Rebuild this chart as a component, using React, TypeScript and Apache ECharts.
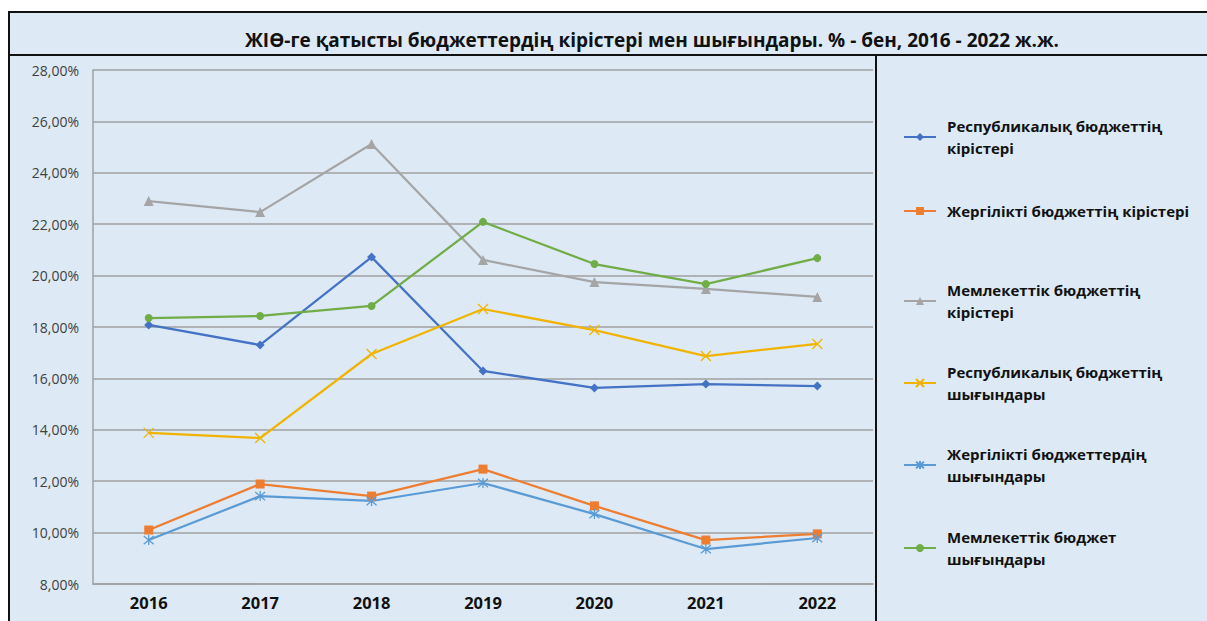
import React, { useEffect, useRef } from "react";
import * as echarts from "echarts";

const years = ["2016", "2017", "2018", "2019", "2020", "2021", "2022"];
const respIncome = [18.08, 17.3, 20.72, 16.29, 15.63, 15.78, 15.7];
const localIncome = [10.1, 11.89, 11.42, 12.47, 11.04, 9.71, 9.95];
const stateIncome = [22.9, 22.47, 25.12, 20.61, 19.75, 19.48, 19.17];
const respSpend = [13.88, 13.68, 16.95, 18.7, 17.88, 16.87, 17.34];
const localSpend = [9.71, 11.42, 11.23, 11.93, 10.72, 9.36, 9.79];
const stateSpend = [18.35, 18.43, 18.82, 22.09, 20.45, 19.67, 20.68];

const names = [
  "Республикалық бюджеттің кірістері",
  "Жергілікті бюджеттің кірістері",
  "Мемлекеттік бюджеттің кірістері",
  "Республикалық бюджеттің шығындары",
  "Жергілікті бюджеттердің шығындары",
  "Мемлекеттік бюджет шығындары",
];
const legendLabels = [
  "Республикалық бюджеттің\nкірістері",
  "Жергілікті бюджеттің кірістері",
  "Мемлекеттік бюджеттің\nкірістері",
  "Республикалық бюджеттің\nшығындары",
  "Жергілікті бюджеттердің\nшығындары",
  "Мемлекеттік бюджет\nшығындары",
];
const colors = ["#4472C4", "#ED7D31", "#A5A5A5", "#F0B400", "#5B9BD5", "#70AD47"];
const title = "ЖІӨ-ге қатысты бюджеттердің кірістері мен шығындары. % - бен, 2016 - 2022 ж.ж.";

const XSYM = "path://M0,0L10,10M10,0L0,10";
const STARSYM = "path://M0,0L10,10M10,0L0,10M5,-1L5,11";

export default function App() {
  const ref = useRef<HTMLDivElement>(null);
  useEffect(() => {
    document.body.style.margin = "0";
    const chart = echarts.init(ref.current!, null, { renderer: "svg" });
    const datas = [respIncome, localIncome, stateIncome, respSpend, localSpend, stateSpend];
    const symbols = ["diamond", "rect", "triangle", XSYM, STARSYM, "circle"];
    const sizes = [9, 9, 10, 10, 10, 8];
    const series = datas.map((d, i) => {
      const stroked = i === 3 || i === 4;
      return {
        name: names[i],
        type: "line",
        data: d,
        symbol: symbols[i],
        symbolSize: sizes[i],
        lineStyle: { color: colors[i], width: 2.25 },
        itemStyle: stroked
          ? { color: "rgba(0,0,0,0)", borderColor: colors[i], borderWidth: 1.3 }
          : { color: colors[i], borderWidth: 0 },
        emphasis: { disabled: true },
      };
    });
    const legendTops = [115, 200, 279, 361, 443, 526];
    const legends = names.map((n, i) => ({
      data: [n],
      left: 903,
      top: legendTops[i],
      padding: 0,
      itemWidth: 32,
      itemHeight: 10,
      itemGap: 0,
      selectedMode: false,
      formatter: () => legendLabels[i],
      textStyle: {
        fontFamily: "Open Sans",
        fontWeight: "bold",
        fontSize: 15,
        color: "#111",
        lineHeight: 22,
        padding: [0, 0, 0, 6],
      },
    }));
    chart.setOption({
      animation: false,
      backgroundColor: "#ffffff",
      graphic: [
        {
          type: "rect",
          z: -10,
          silent: true,
          shape: { x: 9, y: 12, width: 1210, height: 620 },
          style: { fill: "#DDEAF6", stroke: "#111", lineWidth: 2 },
        },
        {
          type: "line",
          silent: true,
          shape: { x1: 9, y1: 55, x2: 1207, y2: 55 },
          style: { stroke: "#111", lineWidth: 2 },
        },
        {
          type: "line",
          silent: true,
          shape: { x1: 876, y1: 55, x2: 876, y2: 621 },
          style: { stroke: "#111", lineWidth: 2 },
        },
        {
          type: "text",
          silent: true,
          x: 652,
          y: 40,
          style: {
            text: title,
            fontFamily: "Open Sans",
            fontWeight: "bold",
            fontSize: 19,
            fill: "#111",
            align: "center",
            verticalAlign: "middle",
          },
        },
      ],
      legend: legends,
      grid: { left: 93, right: 334, top: 70, bottom: 37 },
      xAxis: {
        type: "category",
        data: years,
        boundaryGap: true,
        axisLine: { lineStyle: { color: "#A0A0A0", width: 1.5 } },
        axisTick: { show: false },
        axisLabel: {
          fontFamily: "Open Sans",
          fontWeight: "bold",
          fontSize: 16.5,
          color: "#111",
          margin: 10,
        },
      },
      yAxis: {
        type: "value",
        min: 8,
        max: 28,
        interval: 2,
        axisLine: { show: true, lineStyle: { color: "#A0A0A0", width: 1.5 } },
        axisTick: { show: false },
        splitLine: { lineStyle: { color: "#A0A0A0", width: 1.5 } },
        axisLabel: {
          fontFamily: "Open Sans",
          fontSize: 14,
          color: "#404040",
          margin: 14,
          formatter: (v: number) => v.toFixed(2).replace(".", ",") + "%",
        },
      },
      series,
    });
    return () => chart.dispose();
  }, []);
  return (
    <div
      ref={ref}
      style={{ position: "absolute", left: 0, top: 0, width: 1207, height: 621 }}
    />
  );
}
